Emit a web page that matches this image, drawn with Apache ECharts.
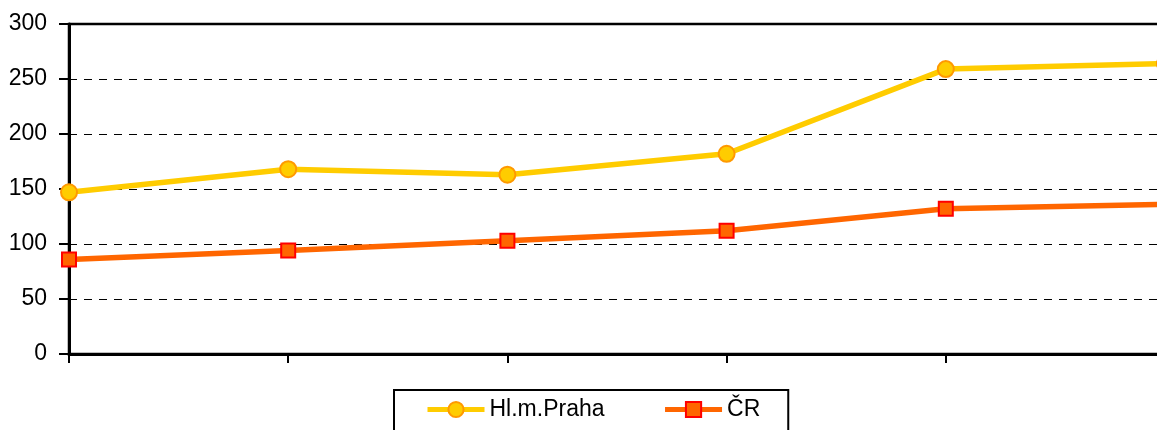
<!DOCTYPE html>
<html>
<head>
<meta charset="utf-8">
<script src="https://cdn.jsdelivr.net/npm/echarts@6/dist/echarts.min.js"></script>
<style>
html,body{margin:0;padding:0;background:#fff;}
#chart{width:1157px;height:430px;}
</style>
</head>
<body>
<div id="chart"></div>
<script>
var categories = ['1', '2', '3', '4', '5', '6'];
var seriesNames = ['Hl.m.Praha', 'ČR'];
var prahaValues = [147, 168, 163, 182, 259, 264];
var crValues = [86, 94, 103, 112, 132, 136];
var yTicks = [0, 50, 100, 150, 200, 250, 300];

var FONT = '"Liberation Sans", Arial, sans-serif';
var chart = echarts.init(document.getElementById('chart'), null, {renderer: 'canvas'});
chart.setOption({
  animation: false,
  backgroundColor: '#fff',
  grid: {
    left: 69, width: 1096, top: 24, height: 330,
    outerBoundsMode: 'none',
    show: true, borderColor: '#000', borderWidth: 2.5, backgroundColor: 'transparent'
  },
  legend: {
    data: seriesNames,
    left: 394, top: 390,
    padding: [8, 28, 20, 31],
    borderColor: '#000', borderWidth: 2,
    itemWidth: 57, itemHeight: 19, itemGap: 58,
    lineStyle: {width: 5},
    textStyle: {fontFamily: FONT, fontSize: 23, color: '#000'}
  },
  xAxis: {
    type: 'category',
    data: categories,
    boundaryGap: false,
    axisLine: {lineStyle: {color: '#000', width: 3}},
    axisTick: {show: true, length: 9, lineStyle: {color: '#000', width: 2}, alignWithLabel: true},
    axisLabel: {show: false},
    splitLine: {show: false}
  },
  yAxis: {
    type: 'value',
    min: yTicks[0], max: yTicks[yTicks.length - 1], interval: 50,
    axisLine: {show: true, lineStyle: {color: '#000', width: 3}},
    axisTick: {show: true, length: 10, lineStyle: {color: '#000', width: 2}},
    axisLabel: {margin: 22, fontFamily: FONT, fontSize: 23, color: '#000'},
    splitLine: {show: true, lineStyle: {color: '#000', width: 1, type: [8, 7]}}
  },
  series: [
    {
      name: seriesNames[0], type: 'line', data: prahaValues,
      symbol: 'circle', symbolSize: 16,
      lineStyle: {color: '#FFCC00', width: 5.5},
      itemStyle: {color: '#FFCC00', borderColor: '#FF9900', borderWidth: 2}
    },
    {
      name: seriesNames[1], type: 'line', data: crValues,
      symbol: 'rect', symbolSize: 14,
      lineStyle: {color: '#FF6600', width: 5.5},
      itemStyle: {color: '#FF6600', borderColor: '#FF0000', borderWidth: 2}
    }
  ]
});
</script>
</body>
</html>
